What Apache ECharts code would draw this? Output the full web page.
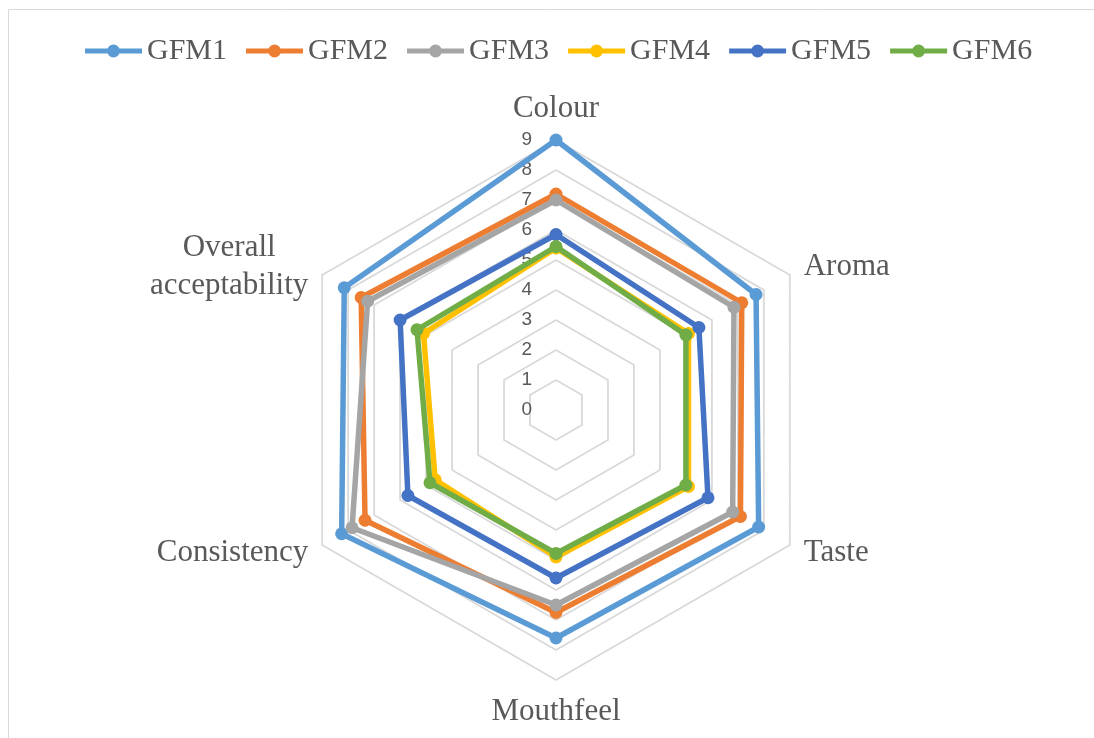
<!DOCTYPE html>
<html>
<head>
<meta charset="utf-8">
<title>Sensory evaluation of GFM formulations</title>
<script src="https://cdn.jsdelivr.net/npm/echarts@6/dist/echarts.min.js"></script>
<style>
  html, body { margin: 0; padding: 0; background: #ffffff; }
  #chart { width: 1094px; height: 738px; }
</style>
</head>
<body>
<div id="chart"></div>
<script>
// Sensory attributes, listed clockwise from the top
const attributes = ['Colour', 'Aroma', 'Taste', 'Mouthfeel', 'Consistency', 'Overall acceptability'];

// Mean scores per formulation (same order as attributes)
const GFM1 = [9.0, 7.7, 7.8, 7.6, 8.25, 8.15];
const GFM2 = [7.2, 7.15, 7.1, 6.75, 7.35, 7.5];
const GFM3 = [7.0, 6.85, 6.8, 6.5, 7.85, 7.25];
const GFM4 = [5.4, 5.1, 5.1, 4.9, 4.65, 5.1];
const GFM5 = [5.85, 5.5, 5.85, 5.6, 5.7, 6.0];
const GFM6 = [5.45, 5.0, 5.0, 4.78, 4.85, 5.35];

const seriesNames = ['GFM1', 'GFM2', 'GFM3', 'GFM4', 'GFM5', 'GFM6'];
const seriesValues = [GFM1, GFM2, GFM3, GFM4, GFM5, GFM6];
const seriesColors = ['#5B9BD5', '#ED7D31', '#A5A5A5', '#FFC000', '#4472C4', '#70AD47'];

// Score scale
const scaleMin = 0;
const scaleMax = 9;
const scaleSteps = 9;

// ECharts lays radar indicators out counter-clockwise, so keep the first
// attribute at the top and reverse the rest to read clockwise.
const order = [0].concat(attributes.slice(1).map((_, i) => attributes.length - 1 - i));

const textGrey = '#595959';
const serif = '"Liberation Serif", "Times New Roman", serif';

const indicators = order.map((idx, k) => {
  const ind = { name: attributes[idx], min: scaleMin, max: scaleMax };
  if (k === 0) {
    ind.axisLabel = {
      show: true,
      color: textGrey,
      fontSize: 19,
      fontFamily: '"Liberation Sans", Arial, sans-serif',
      margin: 24
    };
  }
  return ind;
});

// Line + dot legend glyph (57 x 13 box)
const legendGlyph = 'path://M0,4 L57,4 L57,9 L0,9 Z M35,6.5 A6.5,6.5 0 1 1 22,6.5 A6.5,6.5 0 1 1 35,6.5 Z';

const chart = echarts.init(document.getElementById('chart'), null, { renderer: 'canvas' });

chart.setOption({
  backgroundColor: '#ffffff',
  animation: false,
  color: seriesColors,
  graphic: [{
    type: 'rect',
    shape: { x: 8.5, y: 9.5, width: 1100, height: 800 },
    style: { fill: 'none', stroke: '#D9D9D9', lineWidth: 1 },
    silent: true,
    z: -10
  }],
  legend: {
    left: 80,
    top: 31,
    itemWidth: 57,
    itemHeight: 13,
    itemGap: 19,
    icon: legendGlyph,
    textStyle: { color: textGrey, fontSize: 30, fontFamily: serif },
    data: seriesNames
  },
  radar: {
    center: [556, 410],
    radius: 270,
    startAngle: 90,
    shape: 'polygon',
    splitNumber: scaleSteps,
    indicator: indicators,
    nameGap: 16,
    axisName: {
      color: textGrey,
      fontSize: 31,
      fontFamily: serif,
      formatter: function (name) {
        if (name === 'Overall acceptability') {
          return '{c|Overall}\n{c|acceptability}';
        }
        return name;
      },
      rich: {
        c: { align: 'center', color: textGrey, fontSize: 31, fontFamily: serif, lineHeight: 38 }
      }
    },
    axisLine: { show: false },
    axisTick: { show: false },
    axisLabel: { show: false },
    splitArea: { show: false },
    splitLine: { lineStyle: { color: '#D9D9D9', width: 1.8 } }
  },
  series: seriesNames.map((name, i) => ({
    name: name,
    type: 'radar',
    symbol: 'circle',
    symbolSize: 13,
    z: 2 + i,
    itemStyle: { color: seriesColors[i] },
    lineStyle: { color: seriesColors[i], width: 5.5, cap: 'round', join: 'round' },
    data: [{ name: name, value: order.map(idx => seriesValues[i][idx]) }]
  }))
});
</script>
</body>
</html>
